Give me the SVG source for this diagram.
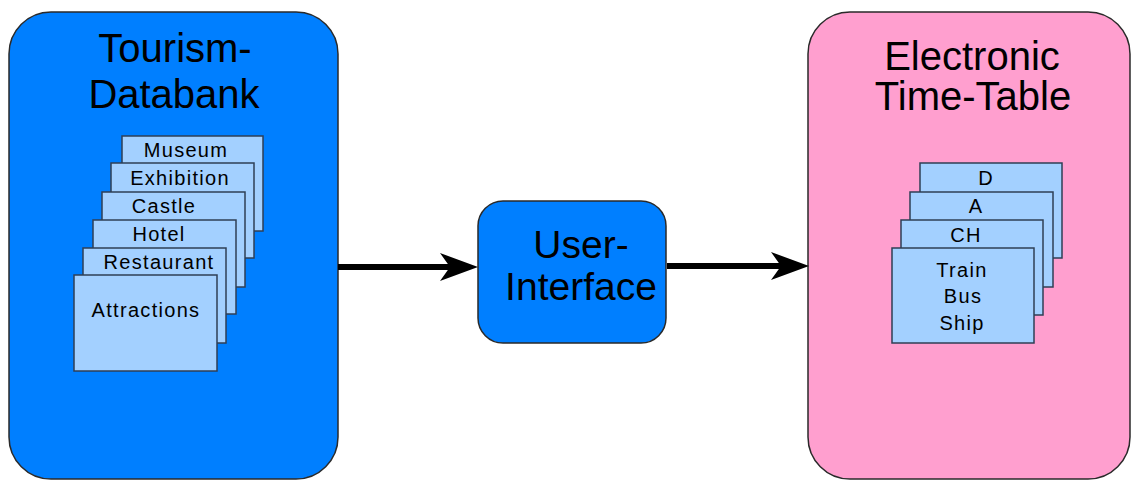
<svg xmlns="http://www.w3.org/2000/svg" width="1131" height="480" viewBox="0 0 1131 480">
  <style>
    .panel { stroke: #2a2a2a; stroke-width: 1.5; }
    .blue { fill: #007fff; }
    .pink { fill: #ff9fcf; }
    .card { fill: #a3d0ff; stroke: #2f3f55; stroke-width: 1.5; }
    text { font-family: "Liberation Sans", Arial, sans-serif; fill: #000; text-anchor: middle; }
    .title { font-size: 40px; }
    .ui { font-size: 39px; }
    .label { font-size: 20px; letter-spacing: 1.3px; }
    .conn { stroke: #000; stroke-width: 6; fill: none; }
  </style>
  <defs>
    <marker id="head" markerUnits="userSpaceOnUse" overflow="visible" refX="0" refY="0" orient="auto">
      <path d="M-10,-14 L28,0 L-10,14 L0,0 Z" fill="#000"/>
    </marker>
  </defs>

  <rect width="1131" height="480" fill="#fff"/>

  <!-- Tourism databank panel with stacked category cards -->
  <g id="tourism-databank">
    <rect class="panel blue" x="9" y="12" width="329" height="467" rx="42"/>
    <text class="title" x="175" y="62">Tourism-</text>
    <text class="title" x="174" y="108">Databank</text>
    <g id="card-museum">
      <rect class="card" x="122" y="136" width="141" height="95"/>
      <text class="label" x="186" y="157">Museum</text>
    </g>
    <g id="card-exhibition">
      <rect class="card" x="111" y="163" width="143" height="95"/>
      <text class="label" x="180" y="185">Exhibition</text>
    </g>
    <g id="card-castle">
      <rect class="card" x="102" y="192" width="143" height="95"/>
      <text class="label" x="164" y="213">Castle</text>
    </g>
    <g id="card-hotel">
      <rect class="card" x="93" y="220" width="143" height="94"/>
      <text class="label" x="159" y="241">Hotel</text>
    </g>
    <g id="card-restaurant">
      <rect class="card" x="83" y="248" width="143" height="95"/>
      <text class="label" x="159" y="269">Restaurant</text>
    </g>
    <g id="card-attractions">
      <rect class="card" x="74" y="275" width="143" height="96"/>
      <text class="label" x="146" y="317">Attractions</text>
    </g>
  </g>

  <!-- User interface node -->
  <g id="user-interface">
    <rect class="panel blue" x="478" y="201" width="188" height="142" rx="25"/>
    <text class="ui" x="581" y="258">User-</text>
    <text class="ui" x="581" y="300">Interface</text>
  </g>

  <!-- Electronic time-table panel with country cards -->
  <g id="time-table">
    <rect class="panel pink" x="808" y="12" width="322" height="467" rx="42"/>
    <text class="title" x="972" y="70">Electronic</text>
    <text class="title" x="973" y="110">Time-Table</text>
    <g id="card-d">
      <rect class="card" x="920" y="163" width="142" height="95"/>
      <text class="label" x="986" y="185">D</text>
    </g>
    <g id="card-a">
      <rect class="card" x="910" y="192" width="143" height="95"/>
      <text class="label" x="976" y="213">A</text>
    </g>
    <g id="card-ch">
      <rect class="card" x="901" y="220" width="142" height="95"/>
      <text class="label" x="966" y="242">CH</text>
    </g>
    <g id="card-modes">
      <rect class="card" x="892" y="248" width="142" height="95"/>
      <text class="label" x="962" y="277">Train</text>
      <text class="label" x="963" y="303">Bus</text>
      <text class="label" x="962" y="330">Ship</text>
    </g>
  </g>

  <!-- Connectors -->
  <g id="connectors">
    <line class="conn" x1="338" y1="267" x2="450" y2="267" marker-end="url(#head)"/>
    <line class="conn" x1="667" y1="266" x2="781" y2="266" marker-end="url(#head)"/>
  </g>
</svg>
